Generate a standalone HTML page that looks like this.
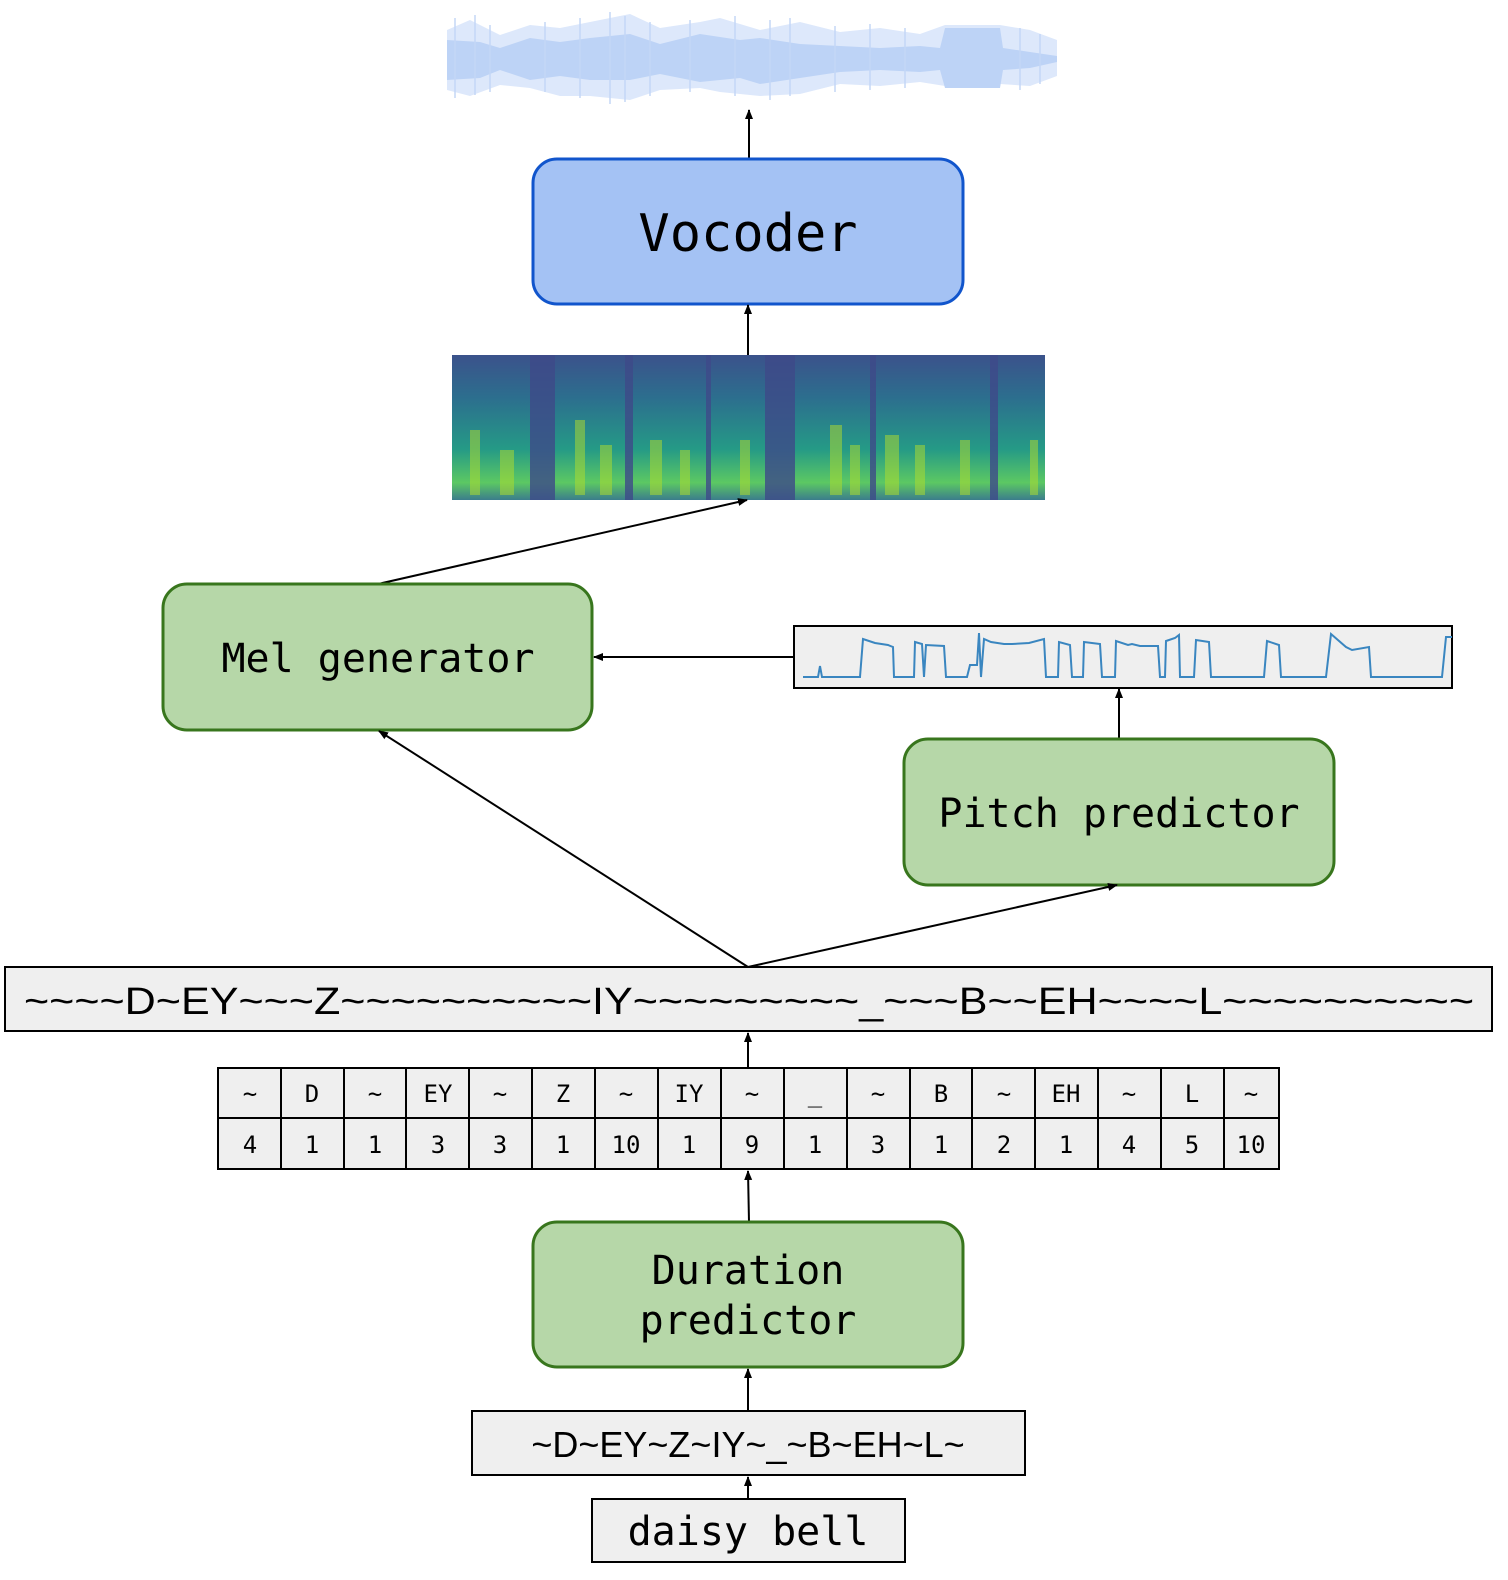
<!DOCTYPE html>
<html><head><meta charset="utf-8"><style>
html,body{margin:0;padding:0;background:#fff;}
svg{display:block;}
.mono{font-family:"DejaVu Sans Mono","Liberation Mono",monospace;}
.sans{font-family:"Liberation Sans",sans-serif;}
</style></head><body>
<svg width="1508" height="1580" viewBox="0 0 1508 1580" xmlns="http://www.w3.org/2000/svg">
<defs>
<marker id="ah" markerWidth="10" markerHeight="10" refX="9" refY="5" orient="auto" markerUnits="userSpaceOnUse">
<path d="M0,1 L10,5 L0,9 Z" fill="#000"/></marker>
<linearGradient id="sg" x1="0" y1="0" x2="0" y2="1">
<stop offset="0" stop-color="#3b528b"/><stop offset="0.3" stop-color="#2c6f8e"/>
<stop offset="0.65" stop-color="#259a86"/><stop offset="0.88" stop-color="#5cc863"/><stop offset="1" stop-color="#3b7d8c"/></linearGradient>
</defs>

<!-- waveform -->
<polygon fill="#dde8fb" points="447,30 470,20 500,35 530,25 560,28 590,22 630,14 660,28 700,22 720,18 760,30 800,22 840,32 880,28 920,34 945,25 1000,25 1030,30 1057,40 1057,76 1030,86 1000,84 945,86 920,82 880,86 840,84 800,94 760,96 720,92 700,88 660,90 630,100 590,96 560,96 530,88 500,85 470,96 447,90"/>
<polygon fill="#bdd3f6" points="447,40 480,42 500,48 530,38 560,42 590,38 630,34 660,44 700,34 740,40 760,38 800,44 840,46 880,48 920,46 940,48 945,28 1000,28 1003,48 1030,52 1057,56 1057,62 1030,68 1003,70 1000,88 945,88 940,70 920,72 880,70 840,72 800,78 760,84 740,78 700,82 660,74 630,80 590,80 560,76 530,80 500,70 480,78 447,80"/>
<g stroke="#c4d7f6" stroke-width="1.5">
<line x1="455" y1="18" x2="455" y2="98"/><line x1="475" y1="15" x2="475" y2="95"/><line x1="490" y1="25" x2="490" y2="92"/>
<line x1="545" y1="22" x2="545" y2="92"/><line x1="580" y1="18" x2="580" y2="98"/><line x1="610" y1="12" x2="610" y2="104"/>
<line x1="625" y1="16" x2="625" y2="102"/><line x1="650" y1="22" x2="650" y2="96"/><line x1="690" y1="20" x2="690" y2="92"/>
<line x1="735" y1="16" x2="735" y2="96"/><line x1="770" y1="20" x2="770" y2="100"/><line x1="790" y1="18" x2="790" y2="96"/>
<line x1="835" y1="26" x2="835" y2="92"/><line x1="870" y1="24" x2="870" y2="90"/><line x1="905" y1="28" x2="905" y2="88"/>
<line x1="1020" y1="28" x2="1020" y2="90"/><line x1="1040" y1="34" x2="1040" y2="84"/>
</g>

<!-- arrows top -->
<line x1="749" y1="159" x2="749" y2="110" stroke="#000" stroke-width="2" marker-end="url(#ah)"/>
<rect x="533" y="159" width="430" height="145" rx="24" fill="#a4c2f4" stroke="#1155cc" stroke-width="3"/>
<text x="748" y="251" class="mono" font-size="52" text-anchor="middle">Vocoder</text>
<line x1="748" y1="355" x2="748" y2="305" stroke="#000" stroke-width="2" marker-end="url(#ah)"/>

<!-- spectrogram -->
<rect x="452" y="355" width="593" height="145" fill="url(#sg)"/>
<g fill="#3e4a89" opacity="0.8">
<rect x="530" y="355" width="25" height="145"/><rect x="625" y="355" width="8" height="145"/>
<rect x="765" y="355" width="30" height="145"/><rect x="870" y="355" width="6" height="145"/>
<rect x="990" y="355" width="8" height="145"/><rect x="706" y="355" width="5" height="145"/>
</g>
<g fill="#b5de2b" opacity="0.5">
<rect x="470" y="430" width="10" height="65"/><rect x="500" y="450" width="14" height="45"/><rect x="575" y="420" width="10" height="75"/>
<rect x="600" y="445" width="12" height="50"/><rect x="650" y="440" width="12" height="55"/><rect x="680" y="450" width="10" height="45"/><rect x="740" y="440" width="10" height="55"/>
<rect x="830" y="425" width="12" height="70"/><rect x="850" y="445" width="10" height="50"/><rect x="885" y="435" width="14" height="60"/><rect x="915" y="445" width="10" height="50"/>
<rect x="960" y="440" width="10" height="55"/><rect x="1030" y="440" width="8" height="55"/>
</g>

<line x1="378" y1="584" x2="747" y2="500" stroke="#000" stroke-width="2" marker-end="url(#ah)"/>

<!-- mel generator -->
<rect x="163" y="584" width="429" height="146" rx="24" fill="#b6d7a8" stroke="#38761d" stroke-width="3"/>
<text x="378" y="672" class="mono" font-size="40" text-anchor="middle">Mel generator</text>

<!-- pitch plot -->
<rect x="794" y="626" width="658" height="62" fill="#efefef" stroke="#000" stroke-width="2"/>
<polyline fill="none" stroke="#3a86c0" stroke-width="2" points="803,677 818,677 820,666 822,677 860,677 863,639 875,643 888,645 893,647 894,677 914,677 915,642 922,644 924,677 926,645 944,646 946,677 967,677 970,665 977,665 979,633 981,677 984,639 991,642 1004,644 1012,644 1029,643 1044,639 1046,677 1058,677 1059,642 1070,645 1072,677 1083,677 1084,642 1100,644 1102,677 1115,677 1116,641 1128,645 1132,644 1140,646 1158,646 1160,677 1165,677 1166,641 1175,638 1179,635 1180,677 1194,677 1196,640 1209,642 1211,677 1264,677 1267,641 1279,645 1281,677 1326,677 1331,634 1346,647 1352,650 1369,647 1371,677 1442,677 1446,637 1452,637"/>
<line x1="793" y1="657" x2="594" y2="657" stroke="#000" stroke-width="2" marker-end="url(#ah)"/>
<line x1="1119" y1="739" x2="1119" y2="689" stroke="#000" stroke-width="2" marker-end="url(#ah)"/>

<!-- pitch predictor -->
<rect x="904" y="739" width="430" height="146" rx="24" fill="#b6d7a8" stroke="#38761d" stroke-width="3"/>
<text x="1119" y="827" class="mono" font-size="40" text-anchor="middle">Pitch predictor</text>

<line x1="748" y1="967" x2="379" y2="731" stroke="#000" stroke-width="2" marker-end="url(#ah)"/>
<line x1="748" y1="967" x2="1117" y2="885" stroke="#000" stroke-width="2" marker-end="url(#ah)"/>

<!-- long seq -->
<rect x="5" y="967" width="1487" height="64" fill="#efefef" stroke="#000" stroke-width="2"/>
<text x="24" y="1014" class="sans" font-size="38" textLength="1450" lengthAdjust="spacingAndGlyphs">~~~~D~EY~~~Z~~~~~~~~~~IY~~~~~~~~~_~~~B~~EH~~~~L~~~~~~~~~~</text>
<line x1="748" y1="1068" x2="748" y2="1033" stroke="#000" stroke-width="2" marker-end="url(#ah)"/>

<!-- table -->
<rect x="218" y="1068" width="1061" height="101" fill="#efefef" stroke="#000" stroke-width="2"/>
<line x1="218" y1="1118" x2="1279" y2="1118" stroke="#000" stroke-width="2"/>
<g stroke="#000" stroke-width="2">
<line x1="281" y1="1068" x2="281" y2="1169"/><line x1="344" y1="1068" x2="344" y2="1169"/>
<line x1="406" y1="1068" x2="406" y2="1169"/><line x1="469" y1="1068" x2="469" y2="1169"/>
<line x1="532" y1="1068" x2="532" y2="1169"/><line x1="595" y1="1068" x2="595" y2="1169"/>
<line x1="658" y1="1068" x2="658" y2="1169"/><line x1="721" y1="1068" x2="721" y2="1169"/>
<line x1="784" y1="1068" x2="784" y2="1169"/><line x1="847" y1="1068" x2="847" y2="1169"/>
<line x1="910" y1="1068" x2="910" y2="1169"/><line x1="972" y1="1068" x2="972" y2="1169"/>
<line x1="1035" y1="1068" x2="1035" y2="1169"/><line x1="1098" y1="1068" x2="1098" y2="1169"/>
<line x1="1161" y1="1068" x2="1161" y2="1169"/><line x1="1224" y1="1068" x2="1224" y2="1169"/>
</g>
<g class="mono" font-size="24" text-anchor="middle">
<text x="250" y="1102">~</text><text x="312" y="1102">D</text><text x="375" y="1102">~</text><text x="438" y="1102">EY</text><text x="500" y="1102">~</text><text x="563" y="1102">Z</text><text x="626" y="1102">~</text><text x="689" y="1102">IY</text><text x="752" y="1102">~</text><text x="815" y="1102">_</text><text x="878" y="1102">~</text><text x="941" y="1102">B</text><text x="1004" y="1102">~</text><text x="1066" y="1102">EH</text><text x="1129" y="1102">~</text><text x="1192" y="1102">L</text><text x="1251" y="1102">~</text>
<text x="250" y="1153">4</text><text x="312" y="1153">1</text><text x="375" y="1153">1</text><text x="438" y="1153">3</text><text x="500" y="1153">3</text><text x="563" y="1153">1</text><text x="626" y="1153">10</text><text x="689" y="1153">1</text><text x="752" y="1153">9</text><text x="815" y="1153">1</text><text x="878" y="1153">3</text><text x="941" y="1153">1</text><text x="1004" y="1153">2</text><text x="1066" y="1153">1</text><text x="1129" y="1153">4</text><text x="1192" y="1153">5</text><text x="1251" y="1153">10</text>
</g>

<line x1="749" y1="1222" x2="748" y2="1171" stroke="#000" stroke-width="2" marker-end="url(#ah)"/>
<rect x="533" y="1222" width="430" height="145" rx="24" fill="#b6d7a8" stroke="#38761d" stroke-width="3"/>
<text x="748" y="1284" class="mono" font-size="40" text-anchor="middle">Duration</text>
<text x="748" y="1334" class="mono" font-size="40" text-anchor="middle">predictor</text>

<line x1="748" y1="1411" x2="748" y2="1369" stroke="#000" stroke-width="2" marker-end="url(#ah)"/>
<rect x="472" y="1411" width="553" height="64" fill="#efefef" stroke="#000" stroke-width="2"/>
<text x="748" y="1457" class="sans" font-size="36" text-anchor="middle">~D~EY~Z~IY~_~B~EH~L~</text>
<line x1="748" y1="1499" x2="748" y2="1477" stroke="#000" stroke-width="2" marker-end="url(#ah)"/>
<rect x="592" y="1499" width="313" height="63" fill="#efefef" stroke="#000" stroke-width="2"/>
<text x="748" y="1545" class="mono" font-size="40" text-anchor="middle">daisy bell</text>
</svg>
</body></html>
